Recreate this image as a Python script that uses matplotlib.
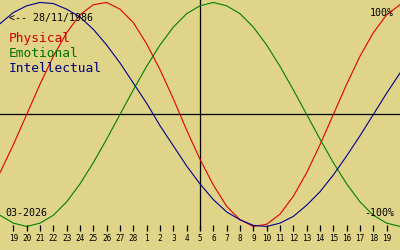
import matplotlib
matplotlib.use("Agg")
import matplotlib.pyplot as plt

# Biorhythm chart, 18/02/2026 .. 20/03/2026, today = 05/03/2026
days = list(range(31))   # index 0 = 18 Feb, 15 = 5 Mar, 30 = 20 Mar
physical = [-52, -27, 0, 27, 52, 73, 89, 98, 100, 94, 82, 63, 40, 14, -14, -40,
            -63, -82, -94, -100, -98, -89, -73, -52, -27, 0, 27, 52, 73, 89, 98]
emotional = [-90, -97, -100, -97, -90, -78, -62, -43, -22, 0, 22, 43, 62, 78, 90, 97,
             100, 97, 90, 78, 62, 43, 22, 0, -22, -43, -62, -78, -90, -97, -100]
intellectual = [81, 91, 97, 100, 99, 94, 87, 76, 62, 46, 28, 10, -10, -28, -46, -62,
                -76, -87, -94, -99, -100, -97, -91, -81, -69, -54, -37, -19, 0, 19, 37]
tick_days = list(range(1, 30))
tick_labels = [19, 20, 21, 22, 23, 24, 25, 26, 27, 28, 1, 2, 3, 4, 5, 6, 7, 8, 9, 10,
               11, 12, 13, 14, 15, 16, 17, 18, 19]
today = 15

bg = '#E0D488'
mono = 'DejaVu Sans Mono'

fig = plt.figure(figsize=(4, 2.5), dpi=100, facecolor=bg)
ax = fig.add_axes([0, 0, 1, 1])
ax.set_facecolor(bg)
ax.set_xlim(0, 30)
ax.set_ylim(-121, 102.2)
ax.axis('off')

# axes cross
ax.axhline(0, color='k', lw=0.9)
ax.axvline(today, ymin=1 - 230 / 250, ymax=1, color='k', lw=0.9)

ax.plot(days, physical, color='#E00000', lw=0.8)
ax.plot(days, emotional, color='#008000', lw=0.8)
ax.plot(days, intellectual, color='#000090', lw=0.8)

# day ticks along the bottom
tr = ax.get_xaxis_transform()
ax.vlines(tick_days, 1 - 231 / 250, 1 - 225 / 250, color='k', lw=0.9, transform=tr)
for d, lab in zip(tick_days, tick_labels):
    ax.text(d, 1 - 241 / 250, str(lab), transform=tr, ha='center', va='baseline',
            fontsize=5.6, family=mono, color='k')

def px(x, y):
    return x / 400, 1 - y / 250

ax.text(*px(9, 21), '<-- 28/11/1986', transform=ax.transAxes, fontsize=7.2,
        family=mono, color='k', va='baseline')
ax.text(*px(9, 42), 'Physical', transform=ax.transAxes, fontsize=9.3,
        family=mono, color='#D00000', va='baseline')
ax.text(*px(9, 57), 'Emotional', transform=ax.transAxes, fontsize=9.3,
        family=mono, color='#007000', va='baseline')
ax.text(*px(9, 72), 'Intellectual', transform=ax.transAxes, fontsize=9.3,
        family=mono, color='#000080', va='baseline')
ax.text(*px(5, 216), '03-2026', transform=ax.transAxes, fontsize=7.2,
        family=mono, color='k', va='baseline')
ax.text(*px(394, 16), '100%', transform=ax.transAxes, fontsize=7.2,
        family=mono, color='k', va='baseline', ha='right')
ax.text(*px(394, 216), '-100%', transform=ax.transAxes, fontsize=7.2,
        family=mono, color='k', va='baseline', ha='right')

plt.savefig("out.png", dpi=100, facecolor=bg)
